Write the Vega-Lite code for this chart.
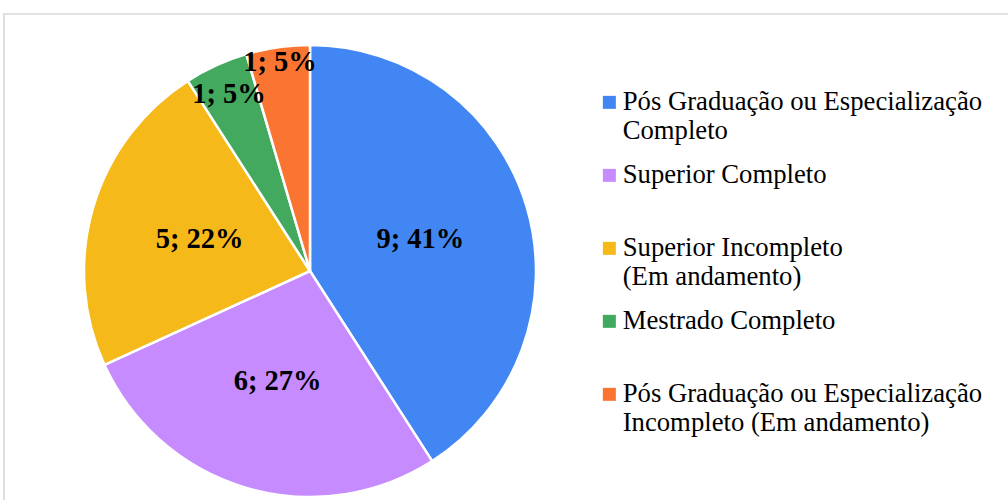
{
  "$schema": "https://vega.github.io/schema/vega-lite/v6.json",
  "width": 1004,
  "height": 486,
  "autosize": {"type": "none"},
  "padding": {"left": 4, "top": 14, "right": 0, "bottom": 0},
  "background": "white",
  "view": {"stroke": "#d9d9d9", "strokeWidth": 1.7, "strokeDash": [1004, 1490, 500]},
  "config": {
    "font": "Liberation Serif"
  },
  "data": {
    "values": [
      {"nivel": "Pós Graduação ou Especialização Completo", "n": 9, "pct": 41},
      {"nivel": "Superior Completo", "n": 6, "pct": 27},
      {"nivel": "Superior Incompleto (Em andamento)", "n": 5, "pct": 22},
      {"nivel": "Mestrado Completo", "n": 1, "pct": 5},
      {"nivel": "Pós Graduação ou Especialização Incompleto (Em andamento)", "n": 1, "pct": 5}
    ]
  },
  "transform": [
    {"window": [{"op": "row_number", "as": "ordem"}]},
    {"calculate": "datum.n + '; ' + datum.pct + '%'", "as": "rotulo"}
  ],
  "encoding": {
    "theta": {"field": "n", "type": "quantitative", "stack": true},
    "order": {"field": "ordem", "type": "quantitative"},
    "color": {
      "field": "nivel",
      "type": "nominal",
      "scale": {
        "domain": [
          "Pós Graduação ou Especialização Completo",
          "Superior Completo",
          "Superior Incompleto (Em andamento)",
          "Mestrado Completo",
          "Pós Graduação ou Especialização Incompleto (Em andamento)"
        ],
        "range": ["#4186f2", "#c58bff", "#f5b91a", "#43a95f", "#fa7532"]
      },
      "legend": {
        "title": null,
        "orient": "none",
        "legendX": 592,
        "legendY": 75,
        "symbolType": "square",
        "symbolSize": 169,
        "symbolStrokeWidth": 0,
        "labelFont": "Liberation Serif",
        "labelFontSize": 26.7,
        "labelColor": "black",
        "labelOffset": 0,
        "labelLimit": 0,
        "rowPadding": 17,
        "labelExpr": "split(replace(replace(datum.label, /(zação|Superior Incompleto) /, '$1|'), /^(Superior Completo|Mestrado Completo)$/, '$1| '), '|')"
      }
    }
  },
  "layer": [
    {
      "mark": {"type": "arc", "outerRadius": 226, "stroke": "white", "strokeWidth": 2.5, "xOffset": -196, "yOffset": 14}
    },
    {
      "mark": {"type": "text", "radius": 115, "font": "Liberation Serif", "fontSize": 28.5, "fontWeight": "bold", "align": "center", "baseline": "middle", "xOffset": -196, "yOffset": 14},
      "encoding": {
        "text": {"condition": {"test": "datum.n >= 5", "field": "rotulo"}, "value": ""},
        "color": {"value": "black"}
      }
    },
    {
      "mark": {"type": "text", "radius": 195, "font": "Liberation Serif", "fontSize": 28.5, "fontWeight": "bold", "align": "center", "baseline": "middle", "xOffset": -196, "yOffset": 14},
      "encoding": {
        "text": {"condition": {"test": "datum.nivel == 'Mestrado Completo'", "field": "rotulo"}, "value": ""},
        "color": {"value": "black"}
      }
    },
    {
      "mark": {"type": "text", "radius": 211, "font": "Liberation Serif", "fontSize": 28.5, "fontWeight": "bold", "align": "center", "baseline": "middle", "xOffset": -196, "yOffset": 14},
      "encoding": {
        "text": {"condition": {"test": "datum.nivel == 'Pós Graduação ou Especialização Incompleto (Em andamento)'", "field": "rotulo"}, "value": ""},
        "color": {"value": "black"}
      }
    }
  ]
}
